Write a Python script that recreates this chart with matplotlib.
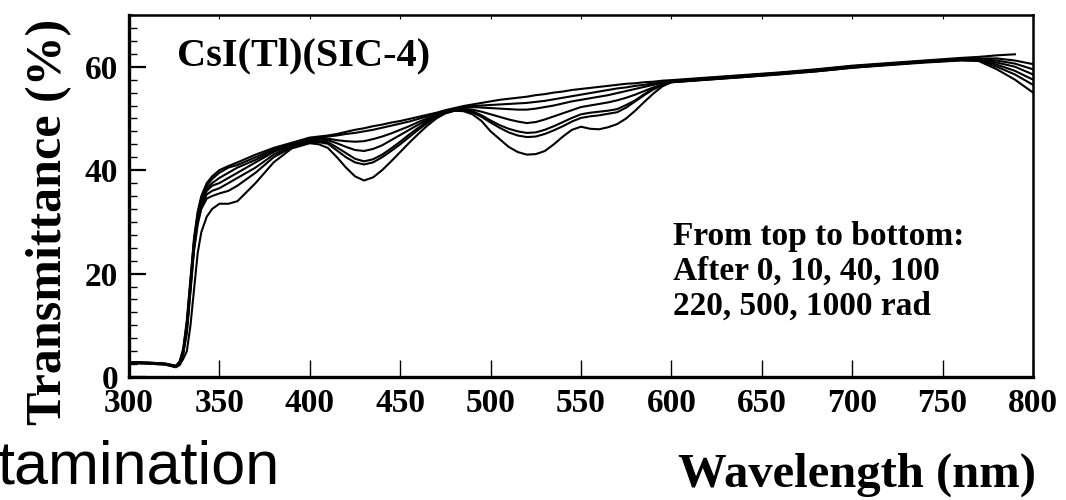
import numpy as np
import matplotlib
matplotlib.use("Agg")
import matplotlib.pyplot as plt
from matplotlib.ticker import MultipleLocator, FixedLocator

# ---------------- data ----------------
wavelength = [300, 310, 320, 326, 328, 330, 332, 334, 336, 338, 340, 343, 346, 350, 355,
              360, 370, 380, 390,
              400, 405, 410, 415, 420, 425, 430, 435, 440, 445, 450, 455, 460, 465, 470, 475,
              480, 485, 490, 495, 500, 505, 510, 515, 520, 525, 530, 535, 540, 545, 550, 555,
              560, 565, 570, 575, 580, 585, 590, 595, 600,
              620, 640, 660, 680, 700, 720, 740, 760, 770, 780, 790, 800]

t_0rad = [2.9, 2.8, 2.6, 2.2, 3.0, 5.5, 11.0, 19.0, 27.0, 32.0, 35.0, 37.5, 38.8, 40.0, 40.8,
          41.5, 43.0, 44.3, 45.3,
          46.3, 46.5, 46.7, 47.0, 47.4, 47.8, 48.1, 48.5, 48.8, 49.2, 49.5, 49.9, 50.3, 50.7, 51.1, 51.6,
          52.0, 52.4, 52.7, 53.0, 53.3, 53.6, 53.8, 54.0, 54.2, 54.5, 54.7, 55.0, 55.2, 55.5, 55.7, 55.9,
          56.1, 56.3, 56.5, 56.7, 56.8, 57.0, 57.1, 57.3, 57.4,
          57.9, 58.4, 58.9, 59.5, 60.2, 60.7, 61.2, 61.7, 61.9, 62.2, 62.4, np.nan]
t_10rad = [2.8, 2.8, 2.6, 2.1, 2.9, 5.2, 10.5, 18.5, 26.5, 31.5, 34.5, 37.0, 38.3, 39.5, 40.5,
           41.0, 42.5, 44.0, 45.0,
           46.1, 46.3, 46.5, 46.7, 47.0, 47.2, 47.5, 47.8, 48.2, 48.6, 49.0, 49.4, 49.9, 50.4, 50.9, 51.4,
           51.9, 52.2, 52.4, 52.5, 52.6, 52.7, 52.8, 52.9, 53.0, 53.2, 53.4, 53.7, 54.0, 54.3, 54.6, 54.9,
           55.2, 55.5, 55.8, 56.0, 56.3, 56.5, 56.8, 57.0, 57.3,
           57.8, 58.3, 58.8, 59.4, 60.1, 60.6, 61.1, 61.5, 61.6, 61.6, 61.2, 60.5]
t_40rad = [2.8, 2.7, 2.5, 2.1, 2.8, 5.0, 10.0, 18.0, 26.0, 31.0, 34.0, 36.5, 37.5, 38.5, 39.5,
           40.5, 42.0, 43.8, 45.0,
           46.0, 46.1, 46.1, 45.8, 45.6, 45.5, 45.6, 46.0, 46.5, 47.1, 47.8, 48.5, 49.3, 50.0, 50.7, 51.3,
           51.8, 52.0, 52.2, 52.1, 52.0, 51.9, 51.8, 51.7, 51.7, 51.9, 52.2, 52.5, 52.9, 53.3, 53.6, 53.9,
           54.2, 54.5, 54.9, 55.3, 55.7, 56.1, 56.5, 56.9, 57.2,
           57.7, 58.2, 58.8, 59.3, 60.0, 60.5, 61.0, 61.4, 61.5, 61.2, 60.6, 59.5]
t_100rad = [2.8, 2.7, 2.5, 2.0, 2.8, 4.8, 9.5, 17.5, 25.5, 30.5, 33.5, 36.0, 37.0, 37.5, 38.5,
            39.5, 41.5, 43.5, 44.8,
            45.8, 45.9, 45.8, 45.2, 44.5, 43.9, 43.7, 44.1, 44.8, 45.8, 46.8, 47.8, 48.8, 49.7, 50.5, 51.2,
            51.7, 51.8, 51.7, 51.3, 50.8, 50.3, 49.8, 49.4, 49.1, 49.3, 49.8, 50.4, 51.0, 51.6, 52.2, 52.5,
            52.8, 53.1, 53.5, 54.0, 54.6, 55.3, 56.0, 56.6, 57.1,
            57.6, 58.1, 58.7, 59.2, 59.9, 60.5, 61.0, 61.4, 61.4, 60.8, 60.0, 58.5]
t_220rad = [2.7, 2.7, 2.5, 2.0, 2.7, 4.6, 9.0, 17.0, 25.0, 30.0, 33.0, 35.3, 36.0, 36.5, 37.5,
            38.5, 40.5, 43.0, 44.6,
            45.6, 45.6, 45.4, 44.4, 43.3, 42.2, 41.7, 42.1, 43.0, 44.2, 45.5, 46.9, 48.2, 49.4, 50.4, 51.1,
            51.6, 51.6, 51.4, 50.6, 49.6, 48.7, 48.0, 47.5, 47.2, 47.3, 47.8, 48.5, 49.3, 50.1, 50.8, 51.1,
            51.3, 51.5, 51.8, 52.6, 53.5, 54.7, 55.8, 56.5, 57.0,
            57.6, 58.1, 58.6, 59.2, 59.9, 60.4, 60.9, 61.3, 61.3, 60.4, 59.2, 57.5]
t_500rad = [2.7, 2.6, 2.4, 1.9, 2.6, 4.5, 8.5, 16.5, 24.5, 29.5, 32.5, 34.5, 35.0, 35.5, 36.0,
            37.0, 39.5, 42.5, 44.4,
            45.4, 45.4, 45.1, 43.8, 42.5, 41.5, 41.1, 41.5, 42.5, 43.7, 45.0, 46.4, 47.8, 49.1, 50.2, 51.0,
            51.5, 51.5, 51.2, 50.3, 49.2, 48.2, 47.3, 46.7, 46.4, 46.5, 47.0, 47.7, 48.5, 49.4, 50.1, 50.4,
            50.6, 50.9, 51.2, 52.1, 53.3, 54.5, 55.6, 56.4, 57.0,
            57.5, 58.0, 58.6, 59.1, 59.8, 60.4, 60.9, 61.3, 61.2, 60.0, 58.5, 56.5]
t_1000rad = [2.7, 2.6, 2.4, 1.9, 2.3, 3.5, 5.0, 10.0, 17.0, 24.0, 28.0, 31.0, 32.5, 33.5, 33.5,
             34.0, 37.5, 41.5, 44.2,
             45.2, 45.0, 44.3, 42.5, 40.5, 38.8, 38.0, 38.6, 40.0, 41.7, 43.5, 45.3, 47.0, 48.6, 50.0, 51.0,
             51.5, 51.4, 50.8, 49.5, 47.5, 46.0, 44.5, 43.5, 43.0, 43.1, 43.7, 45.0, 46.5, 47.8, 48.4, 48.0,
             47.9, 48.3, 48.9, 50.0, 51.5, 53.2, 54.8, 56.2, 57.0,
             57.5, 58.0, 58.5, 59.1, 59.8, 60.3, 60.8, 61.2, 61.1, 59.5, 57.5, 55.0]

series = [t_0rad, t_10rad, t_40rad, t_100rad, t_220rad, t_500rad, t_1000rad]

x_major = [300, 350, 400, 450, 500, 550, 600, 650, 700, 750, 800]
y_major = [0, 20, 40, 60]

# ---------------- figure ----------------
W, H = 1066, 500
fig = plt.figure(figsize=(W / 100, H / 100), dpi=100)
L, R, T, B = 129, 1033, 15, 377
ax = fig.add_axes([L / W, 1 - B / H, (R - L) / W, (B - T) / H])

serif = "Liberation Serif"
for s in series:
    ax.plot(wavelength, s, color="black", lw=1.5, solid_joinstyle="round")

ax.set_xlim(300, 800)
ax.set_ylim(0, 70)
ax.xaxis.set_major_locator(FixedLocator(x_major))
ax.yaxis.set_major_locator(FixedLocator(y_major))
ax.yaxis.set_minor_locator(MultipleLocator(2.5))

ax.tick_params(axis="x", which="major", direction="in", length=12, width=1.0,
               top=False, bottom=True, pad=8, labelsize=24, labelcolor="black")
ax.tick_params(axis="y", which="major", direction="in", length=12, width=1.6,
               left=True, right=False, pad=8, labelsize=24)
ax.tick_params(axis="y", which="minor", direction="in", length=6, width=1.0,
               left=True, right=False)
for lab in ax.get_xticklabels() + ax.get_yticklabels():
    lab.set_fontfamily(serif)
    lab.set_fontweight("bold")

for sp in ax.spines.values():
    sp.set_linewidth(1.8)
ax.spines["left"].set_linewidth(2.4)
ax.spines["bottom"].set_linewidth(2.4)

# short top ticks
ax2 = ax.secondary_xaxis("top")
ax2.set_xticks(x_major[1:-1])
ax2.tick_params(direction="in", length=3, width=0.8, labeltop=False)

# texts
fig.text(177 / W, 1 - 65 / H, "CsI(Tl)(SIC-4)",
         fontfamily=serif, fontweight="bold", fontsize=29, ha="left", va="baseline")
fig.text(673 / W, 1 - 315 / H,
         "From top to bottom:\nAfter 0, 10, 40, 100\n220, 500, 1000 rad",
         fontfamily=serif, fontweight="bold", fontsize=24, ha="left", va="baseline",
         linespacing=1.17)
fig.text(49 / W, 1 - 222 / H, "Transmittance (%)", rotation=90,
         fontfamily=serif, fontweight="bold", fontsize=36, ha="center", va="center")
fig.text(857 / W, 1 - 487 / H, "Wavelength (nm)",
         fontfamily=serif, fontweight="bold", fontsize=35, ha="center", va="baseline")
fig.text(-3 / W, 1 - 483 / H, "tamination",
         fontfamily="Liberation Sans", fontsize=44, ha="left", va="baseline")

fig.savefig("out.png", dpi=100)
